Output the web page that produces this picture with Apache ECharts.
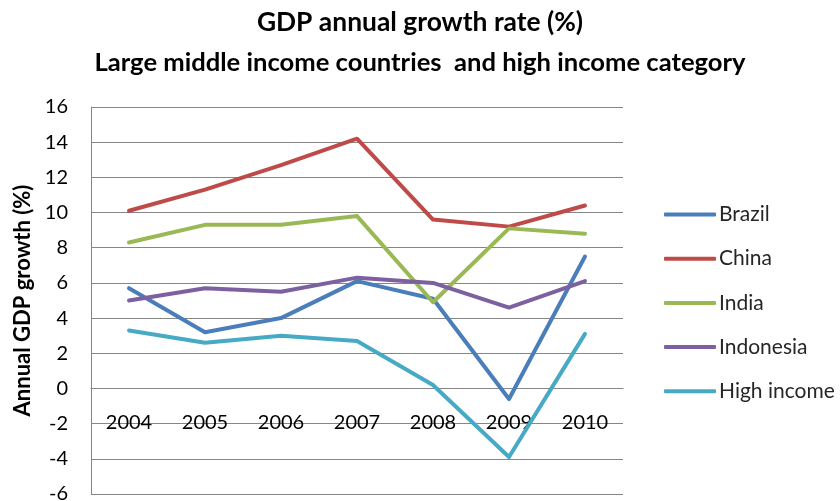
<!DOCTYPE html>
<html>
<head>
<meta charset="utf-8">
<script src="https://cdn.jsdelivr.net/npm/echarts@6/dist/echarts.min.js"></script>
<style>
  html, body { margin: 0; padding: 0; background: #fff; }
  #chart { width: 840px; height: 501px; }
</style>
</head>
<body>
<div id="chart"></div>
<script>
// GDP annual growth rate (%), 2004-2010
const years = ['2004', '2005', '2006', '2007', '2008', '2009', '2010'];
const brazil = [5.7, 3.2, 4.0, 6.1, 5.1, -0.6, 7.5];
const china = [10.1, 11.3, 12.7, 14.2, 9.6, 9.2, 10.4];
const india = [8.3, 9.3, 9.3, 9.8, 4.9, 9.1, 8.8];
const indonesia = [5.0, 5.7, 5.5, 6.3, 6.0, 4.6, 6.1];
const highIncome = [3.3, 2.6, 3.0, 2.7, 0.2, -3.9, 3.1];

const seriesNames = ['Brazil', 'China', 'India', 'Indonesia', 'High income'];
const seriesData = [brazil, china, india, indonesia, highIncome];
const colors = ['#4a7ebb', '#be4b48', '#98b954', '#7d60a0', '#46aac5'];

const FONT = 'Lato, "Open Sans", sans-serif';

// value range and plot box
const Y_MIN = -6, Y_MAX = 16, Y_STEP = 2;
const GRID = { left: 91, right: 217, top: 107, bottom: 7 };
const CHART_H = 501;
const plotHeight = CHART_H - GRID.top - GRID.bottom;
// category axis sits on the zero line
const zeroOffset = -((0 - Y_MIN) / (Y_MAX - Y_MIN)) * plotHeight;

const chart = echarts.init(document.getElementById('chart'), null, { renderer: 'canvas' });

chart.setOption({
  animation: false,
  backgroundColor: '#ffffff',
  color: colors,
  title: [
    {
      text: 'GDP annual growth rate (%)',
      left: 'center',
      top: 4,
      textStyle: { fontFamily: FONT, fontSize: 26.4, fontWeight: 'bold', color: '#000' }
    },
    {
      text: 'Large middle income countries  and high income category',
      left: 'center',
      top: 45,
      textStyle: { fontFamily: FONT, fontSize: 25.6, fontWeight: 'bold', color: '#000' }
    }
  ],
  legend: {
    orient: 'vertical',
    left: 659,
    top: 199,
    icon: 'roundRect',
    itemWidth: 52,
    itemHeight: 4,
    itemGap: 23.2,
    textStyle: { fontFamily: FONT, fontSize: 21, color: '#262626', padding: [0, 0, 0, -2] },
    data: seriesNames
  },
  grid: Object.assign({ containLabel: false, outerBoundsMode: 'none' }, GRID),
  xAxis: {
    type: 'category',
    data: years,
    boundaryGap: true,
    offset: zeroOffset,
    axisLine: { onZero: false, lineStyle: { color: '#868686', width: 1 } },
    axisTick: { show: false },
    axisLabel: { margin: 24, fontFamily: FONT, fontSize: 20, color: '#000' },
    splitLine: { show: false }
  },
  yAxis: {
    type: 'value',
    min: Y_MIN,
    max: Y_MAX,
    interval: Y_STEP,
    name: 'Annual GDP growth (%)',
    nameLocation: 'middle',
    nameGap: 57,
    nameTextStyle: { fontFamily: FONT, fontSize: 22, fontWeight: 'bold', color: '#000' },
    axisLine: { show: true, lineStyle: { color: '#868686', width: 1 } },
    axisTick: { show: false },
    axisLabel: { margin: 23, fontFamily: FONT, fontSize: 20, color: '#000' },
    splitLine: { show: true, lineStyle: { color: '#868686', width: 1 } }
  },
  series: seriesNames.map((name, i) => ({
    name: name,
    type: 'line',
    data: seriesData[i],
    symbol: 'none',
    lineStyle: { width: 4, color: colors[i], cap: 'round', join: 'round' },
    itemStyle: { color: colors[i] }
  }))
});
</script>
</body>
</html>
